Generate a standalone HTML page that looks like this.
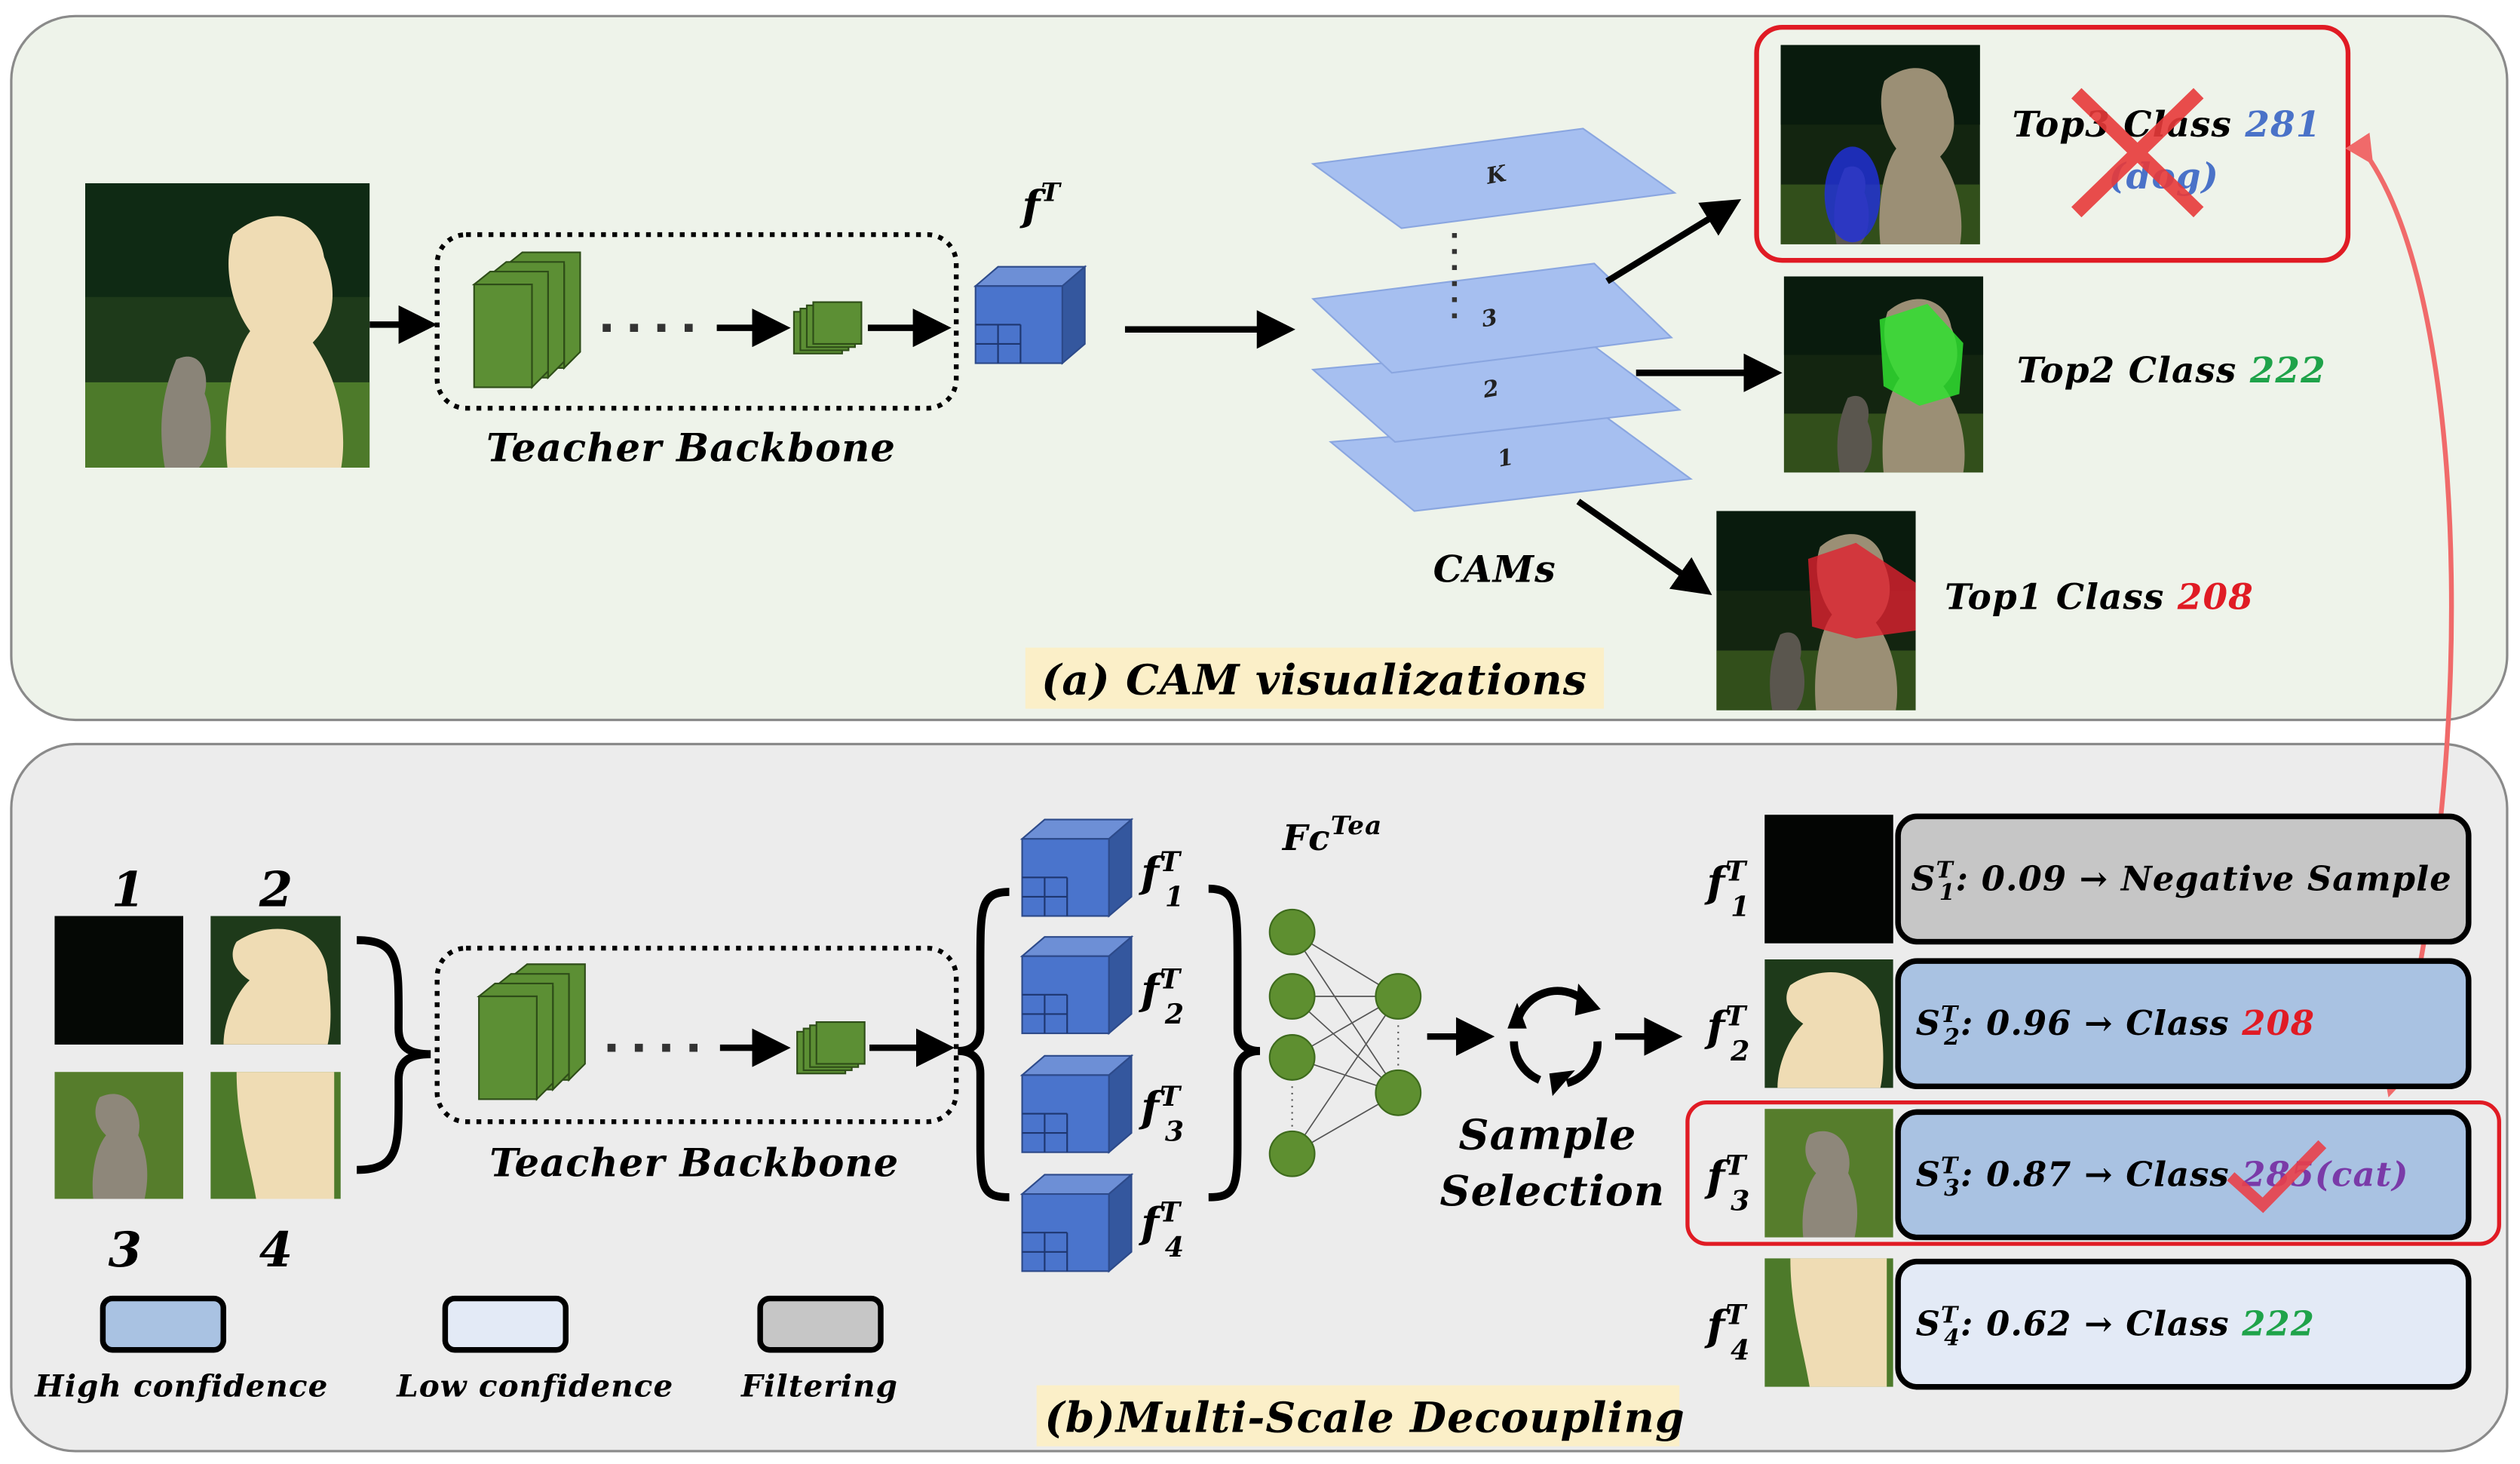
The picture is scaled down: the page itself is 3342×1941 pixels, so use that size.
<!DOCTYPE html>
<html><head><meta charset="utf-8">
<style>
html,body{margin:0;padding:0;background:#fff;}
svg{display:block;}
text{font-family:"DejaVu Serif","Liberation Serif",serif;font-weight:bold;font-style:italic;letter-spacing:0.5px;}
</style></head>
<body>
<svg width="3342" height="1941" viewBox="0 0 1568 911" preserveAspectRatio="none" xmlns="http://www.w3.org/2000/svg">
<defs>
<marker id="ah" markerWidth="6" markerHeight="6" refX="5" refY="3" orient="auto" markerUnits="strokeWidth"><path d="M0,0 L6,3 L0,6 z" fill="#000"/></marker>
<marker id="ahr" markerWidth="6" markerHeight="6" refX="5" refY="3" orient="auto" markerUnits="strokeWidth"><path d="M0,0 L6,3 L0,6 z" fill="#f06a6a"/></marker>
<g id="dog">
<rect x="0" y="0" width="100" height="100" fill="#1e3a1a"/>
<rect x="0" y="0" width="100" height="40" fill="#0f2a14"/>
<rect x="0" y="70" width="100" height="30" fill="#4d7a2a"/>
<path d="M52,18 C66,6 82,12 84,26 C90,40 86,50 80,56 C90,70 92,88 90,100 L50,100 C48,80 52,60 58,52 C52,44 48,30 52,18z" fill="#efdcb4"/>
<path d="M32,62 C40,58 44,66 42,74 C46,84 44,96 40,100 L28,100 C26,88 26,76 32,62z" fill="#8a8478"/>
</g>
<g id="cube">
<polygon points="0,12 14,0 68,0 54,12" fill="#6d8fd6" stroke="#2d4a8a" stroke-width="1"/>
<polygon points="54,12 68,0 68,48 54,60" fill="#34579e" stroke="#2d4a8a" stroke-width="1"/>
<rect x="0" y="12" width="54" height="48" fill="#4a74cc" stroke="#2d4a8a" stroke-width="1"/>
<path d="M0,36 H28 M14,36 V60 M28,36 V60 M0,48 H28" stroke="#1e3670" stroke-width="1"/>
</g>
<g id="blocks">
<g fill="#5c8f34" stroke="#2e4d18" stroke-width="1">
<polygon points="20,0 30,-8 66,-8 66,54 56,64 56,0"/>
<rect x="20" y="0" width="36" height="64"/>
<polygon points="10,6 20,-2 56,-2 56,60 46,70 46,6"/>
<rect x="10" y="6" width="36" height="64"/>
<polygon points="0,12 10,4 46,4 46,66 36,76 36,12"/>
<rect x="0" y="12" width="36" height="64"/>
</g>
</g>
<g id="small">
<g fill="#5c8f34" stroke="#2e4d18" stroke-width="1">
<rect x="0" y="6" width="30" height="26"/>
<rect x="4" y="4" width="30" height="26"/>
<rect x="8" y="2" width="30" height="26"/>
<rect x="12" y="0" width="30" height="26"/>
</g>
</g>
</defs>

<rect x="7" y="10" width="1553" height="438" rx="40" fill="#eef3ea" stroke="#8a8a8a" stroke-width="1.5"/>
<rect x="7" y="463" width="1553" height="440" rx="40" fill="#ececec" stroke="#8a8a8a" stroke-width="1.5"/>

<svg x="53" y="114" width="177" height="177" viewBox="0 0 100 100" preserveAspectRatio="none"><use href="#dog"/></svg>
<line x1="230" y1="202" x2="268" y2="202" stroke="#000" stroke-width="4" marker-end="url(#ah)"/>
<rect x="272" y="146" width="323" height="108" rx="18" fill="none" stroke="#000" stroke-width="3" stroke-dasharray="3,4"/>
<use href="#blocks" x="295" y="165"/>
<line x1="375" y1="204" x2="440" y2="204" stroke="#333" stroke-width="5" stroke-dasharray="5,12"/>
<line x1="446" y1="204" x2="488" y2="204" stroke="#000" stroke-width="4" marker-end="url(#ah)"/>
<use href="#small" x="494" y="188"/>
<line x1="540" y1="204" x2="588" y2="204" stroke="#000" stroke-width="4" marker-end="url(#ah)"/>
<text x="430" y="287" font-size="24" text-anchor="middle">Teacher Backbone</text>
<use href="#cube" x="607" y="166"/>
<text x="636" y="137" font-size="26">f<tspan font-size="16" dy="-12">T</tspan></text>
<line x1="700" y1="205" x2="802" y2="205" stroke="#000" stroke-width="4" marker-end="url(#ah)"/>
<g fill="#a6bff0" stroke="#8aa6e0" stroke-width="1">
<polygon points="828,275 1000,260 1052,298 880,318"/>
<polygon points="817,230 990,214 1045,255 868,275"/>
<polygon points="817,186 992,164 1040,210 866,232"/>
<polygon points="817,102 985,80 1042,120 872,142"/>
</g>
<g font-size="14" font-style="normal" fill="#222">
<text x="925" y="114" transform="rotate(-10 928 110)">K</text>
<text x="922" y="203" transform="rotate(-10 925 199)">3</text>
<text x="923" y="247" transform="rotate(-10 926 243)">2</text>
<text x="932" y="290" transform="rotate(-10 935 286)">1</text>
</g>
<line x1="905" y1="145" x2="905" y2="198" stroke="#333" stroke-width="3" stroke-dasharray="3,7"/>
<text x="930" y="362" font-size="23" text-anchor="middle">CAMs</text>
<line x1="1000" y1="175" x2="1080" y2="126" stroke="#000" stroke-width="4" marker-end="url(#ah)"/>
<line x1="1018" y1="232" x2="1105" y2="232" stroke="#000" stroke-width="4" marker-end="url(#ah)"/>
<line x1="982" y1="312" x2="1062" y2="368" stroke="#000" stroke-width="4" marker-end="url(#ah)"/>

<svg x="1108" y="28" width="124" height="124" viewBox="0 0 100 100" preserveAspectRatio="none"><use href="#dog"/><rect width="100" height="100" fill="#000" opacity="0.35"/><ellipse cx="36" cy="75" rx="14" ry="24" fill="#2030e0" opacity="0.8"/></svg>
<svg x="1110" y="172" width="124" height="122" viewBox="0 0 100 100" preserveAspectRatio="none"><use href="#dog"/><rect width="100" height="100" fill="#000" opacity="0.35"/><polygon points="48,22 72,14 90,34 88,60 68,66 50,56" fill="#30e030" opacity="0.85"/></svg>
<svg x="1068" y="318" width="124" height="124" viewBox="0 0 100 100" preserveAspectRatio="none"><use href="#dog"/><rect width="100" height="100" fill="#000" opacity="0.35"/><polygon points="46,24 70,16 100,36 100,60 70,64 48,58" fill="#e02030" opacity="0.8"/></svg>

<rect x="1093" y="17" width="368" height="145" rx="16" fill="none" stroke="#e01b24" stroke-width="3"/>
<text x="1252" y="85" font-size="22">Top3 Class <tspan fill="#4a72c8">281</tspan></text>
<text x="1312" y="117" font-size="22" fill="#4a72c8">(dog)</text>
<path d="M1292,58 L1368,132 M1368,58 L1292,132" stroke="#e83a3a" stroke-width="9" opacity="0.9"/>
<text x="1255" y="238" font-size="22">Top2 Class <tspan fill="#1fa34a">222</tspan></text>
<text x="1210" y="379" font-size="22">Top1 Class <tspan fill="#e01b24">208</tspan></text>

<rect x="638" y="403" width="360" height="38" fill="#fbefc8"/>
<text x="648" y="432" font-size="26">(a)  CAM visualizations</text>

<path d="M1475,100 C1540,200 1540,500 1487,680" fill="none" stroke="#f06a6a" stroke-width="3" marker-end="url(#ahr)" marker-start="url(#ahr)"/>

<g font-size="30" font-style="normal" text-anchor="middle">
<text x="80" y="564">1</text><text x="172" y="564">2</text>
<text x="78" y="788">3</text><text x="172" y="788">4</text>
</g>
<rect x="34" y="570" width="80" height="80" fill="#050805"/>
<svg x="131" y="570" width="81" height="80" viewBox="0 0 100 100" preserveAspectRatio="none"><rect width="100" height="100" fill="#1e3a1a"/><path d="M20,20 C50,0 90,10 90,50 C95,80 90,100 90,100 L10,100 C10,80 20,60 30,50 C15,40 15,28 20,20z" fill="#efdcb4"/></svg>
<svg x="34" y="667" width="80" height="79" viewBox="0 0 100 100" preserveAspectRatio="none"><rect width="100" height="100" fill="#567d2c"/><path d="M35,20 C55,10 70,30 65,50 C75,70 72,90 70,100 L30,100 C28,80 32,60 40,50 C30,40 30,28 35,20z" fill="#8e877a"/></svg>
<svg x="131" y="667" width="81" height="79" viewBox="0 0 100 100" preserveAspectRatio="none"><rect width="100" height="100" fill="#4d7a2a"/><path d="M20,0 L95,0 L95,100 L35,100 C30,70 20,40 20,0z" fill="#efdcb4"/></svg>

<path d="M222,585 C250,585 248,600 248,640 C248,652 255,656 268,656 C255,656 248,660 248,672 C248,712 250,728 222,728" fill="none" stroke="#000" stroke-width="5"/>
<rect x="272" y="590" width="323" height="108" rx="18" fill="none" stroke="#000" stroke-width="3" stroke-dasharray="3,4"/>
<use href="#blocks" x="298" y="608"/>
<line x1="378" y1="652" x2="442" y2="652" stroke="#333" stroke-width="5" stroke-dasharray="5,12"/>
<line x1="448" y1="652" x2="488" y2="652" stroke="#000" stroke-width="4" marker-end="url(#ah)"/>
<use href="#small" x="496" y="636"/>
<line x1="541" y1="652" x2="590" y2="652" stroke="#000" stroke-width="4" marker-end="url(#ah)"/>
<text x="432" y="732" font-size="24" text-anchor="middle">Teacher Backbone</text>

<path d="M628,555 C610,555 610,565 610,600 L610,640 C610,650 604,654 596,654 C604,654 610,658 610,668 L610,712 C610,740 612,745 628,745" fill="none" stroke="#000" stroke-width="5"/>
<use href="#cube" x="636" y="510"/>
<use href="#cube" x="636" y="583"/>
<use href="#cube" x="636" y="657"/>
<use href="#cube" x="636" y="731"/>
<g font-size="26">
<text x="710" y="552">f<tspan font-size="17" dy="-10">T</tspan><tspan font-size="17" dx="-10" dy="22">1</tspan></text>
<text x="710" y="625">f<tspan font-size="17" dy="-10">T</tspan><tspan font-size="17" dx="-10" dy="22">2</tspan></text>
<text x="710" y="698">f<tspan font-size="17" dy="-10">T</tspan><tspan font-size="17" dx="-10" dy="22">3</tspan></text>
<text x="710" y="770">f<tspan font-size="17" dy="-10">T</tspan><tspan font-size="17" dx="-10" dy="22">4</tspan></text>
</g>
<path d="M752,553 C770,553 770,565 770,600 L770,640 C770,650 776,654 784,654 C776,654 770,658 770,668 L770,712 C770,740 768,745 752,745" fill="none" stroke="#000" stroke-width="5"/>
<text x="798" y="529" font-size="22">Fc<tspan font-size="16" dy="-10">Tea</tspan></text>
<g stroke="#555" stroke-width="0.8">
<line x1="804" y1="580" x2="870" y2="620"/><line x1="804" y1="580" x2="870" y2="680"/>
<line x1="804" y1="620" x2="870" y2="620"/><line x1="804" y1="620" x2="870" y2="680"/>
<line x1="804" y1="658" x2="870" y2="620"/><line x1="804" y1="658" x2="870" y2="680"/>
<line x1="804" y1="718" x2="870" y2="620"/><line x1="804" y1="718" x2="870" y2="680"/>
</g>
<line x1="804" y1="676" x2="804" y2="702" stroke="#555" stroke-dasharray="1,3"/>
<line x1="870" y1="638" x2="870" y2="664" stroke="#555" stroke-dasharray="1,3"/>
<g fill="#5e8f30" stroke="#3d6a1c">
<circle cx="804" cy="580" r="14"/><circle cx="804" cy="620" r="14"/><circle cx="804" cy="658" r="14"/><circle cx="804" cy="718" r="14"/>
<circle cx="870" cy="620" r="14"/><circle cx="870" cy="680" r="14"/>
</g>
<line x1="888" y1="645" x2="926" y2="645" stroke="#000" stroke-width="4" marker-end="url(#ah)"/>
<g fill="none" stroke="#000" stroke-width="5">
<path d="M944,636 A26,26 0 0 1 985,622"/>
<path d="M994,648 A26,26 0 0 1 975,674"/>
<path d="M958,672 A26,26 0 0 1 942,648"/>
</g>
<g fill="#000"><polygon points="982,612 996,628 980,632"/><polygon points="980,666 966,682 964,668"/><polygon points="938,640 950,640 944,624"/></g>
<line x1="1005" y1="645" x2="1043" y2="645" stroke="#000" stroke-width="4" marker-end="url(#ah)"/>
<text x="963" y="715" font-size="26" text-anchor="middle">Sample</text>
<text x="966" y="750" font-size="26" text-anchor="middle">Selection</text>

<g font-size="26">
<text x="1062" y="558">f<tspan font-size="17" dy="-10">T</tspan><tspan font-size="17" dx="-10" dy="22">1</tspan></text>
<text x="1062" y="648">f<tspan font-size="17" dy="-10">T</tspan><tspan font-size="17" dx="-10" dy="22">2</tspan></text>
<text x="1062" y="741">f<tspan font-size="17" dy="-10">T</tspan><tspan font-size="17" dx="-10" dy="22">3</tspan></text>
<text x="1062" y="834">f<tspan font-size="17" dy="-10">T</tspan><tspan font-size="17" dx="-10" dy="22">4</tspan></text>
</g>
<rect x="1098" y="507" width="80" height="80" fill="#030503"/>
<svg x="1098" y="597" width="80" height="80" viewBox="0 0 100 100" preserveAspectRatio="none"><rect width="100" height="100" fill="#1e3a1a"/><path d="M20,20 C50,0 90,10 90,50 C95,80 90,100 90,100 L10,100 C10,80 20,60 30,50 C15,40 15,28 20,20z" fill="#efdcb4"/></svg>
<svg x="1098" y="690" width="80" height="80" viewBox="0 0 100 100" preserveAspectRatio="none"><rect width="100" height="100" fill="#567d2c"/><path d="M35,20 C55,10 70,30 65,50 C75,70 72,90 70,100 L30,100 C28,80 32,60 40,50 C30,40 30,28 35,20z" fill="#8e877a"/></svg>
<svg x="1098" y="783" width="80" height="80" viewBox="0 0 100 100" preserveAspectRatio="none"><rect width="100" height="100" fill="#4d7a2a"/><path d="M20,0 L95,0 L95,100 L35,100 C30,70 20,40 20,0z" fill="#efdcb4"/></svg>

<g stroke="#000" stroke-width="3.5">
<rect x="1181" y="508" width="355" height="78" rx="12" fill="#c6c6c6"/>
<rect x="1181" y="598" width="355" height="78" rx="12" fill="#a9c2e2"/>
<rect x="1181" y="692" width="355" height="78" rx="12" fill="#a9c2e2"/>
<rect x="1181" y="785" width="355" height="78" rx="12" fill="#e3eaf6"/>
</g>
<g font-size="21">
<text x="1189" y="554">S<tspan font-size="14" dy="-8">T</tspan><tspan font-size="14" dx="-9" dy="14">1</tspan><tspan dy="-6">: 0.09 → Negative Sample</tspan></text>
<text x="1192" y="644">S<tspan font-size="14" dy="-8">T</tspan><tspan font-size="14" dx="-9" dy="14">2</tspan><tspan dy="-6">: 0.96 → Class </tspan><tspan fill="#e01b24">208</tspan></text>
<text x="1192" y="738">S<tspan font-size="14" dy="-8">T</tspan><tspan font-size="14" dx="-9" dy="14">3</tspan><tspan dy="-6">: 0.87 → Class </tspan><tspan fill="#7a3aa8">285(cat)</tspan></text>
<text x="1192" y="831">S<tspan font-size="14" dy="-8">T</tspan><tspan font-size="14" dx="-9" dy="14">4</tspan><tspan dy="-6">: 0.62 → Class </tspan><tspan fill="#1fa34a">222</tspan></text>
</g>
<path d="M1388,732 L1408,750 L1445,712" fill="none" stroke="#e8404a" stroke-width="7" opacity="0.9"/>
<rect x="1050" y="686" width="505" height="88" rx="12" fill="none" stroke="#e01b24" stroke-width="2.5"/>

<g stroke="#000" stroke-width="3.5">
<rect x="64" y="808" width="75" height="32" rx="6" fill="#a9c2e2"/>
<rect x="277" y="808" width="75" height="32" rx="6" fill="#e3eaf6"/>
<rect x="473" y="808" width="75" height="32" rx="6" fill="#c6c6c6"/>
</g>
<g font-size="19" text-anchor="middle">
<text x="113" y="869">High confidence</text>
<text x="333" y="869">Low confidence</text>
<text x="510" y="869">Filtering</text>
</g>
<rect x="645" y="862" width="400" height="38" fill="#fbefc8"/>
<text x="650" y="891" font-size="26">(b)Multi-Scale Decoupling</text>
</svg>
</body></html>
